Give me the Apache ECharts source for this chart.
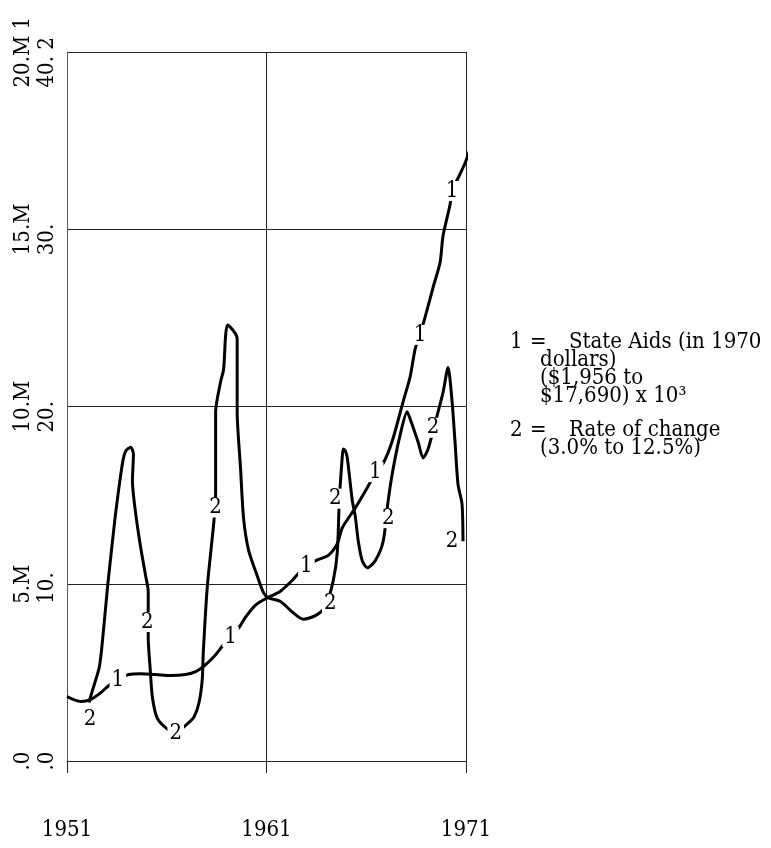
<!DOCTYPE html>
<html>
<head>
<meta charset="utf-8">
<script src="https://cdn.jsdelivr.net/npm/echarts@6/dist/echarts.min.js"></script>
<style>
html,body{margin:0;padding:0;background:#fff;}
#chart{width:771px;height:848px;}
</style>
</head>
<body>
<div id="chart"></div>
<script>
// ---------- data ----------
const baseYear = 1951;
const xTickLabels = ['1951', '1961', '1971'];
const leftLabels1 = ['.0', '5.M', '10.M', '15.M', '20.M 1'];
const leftLabels2 = ['.0', '10.', '20.', '30.', '40. 2'];

// Series 1: State Aids (in 1970 dollars), millions
const years1 = [1951.0,1951.3,1951.7,1952.2,1952.7,1953.1,1953.55,1954.1,1954.7,1955.45,1956.2,1956.95,1957.45,1957.95,1958.45,1958.8,1959.2,1959.6,1959.95,1960.45,1961.1,1961.7,1962.3,1962.95,1963.5,1964.1,1964.55,1964.8,1965.45,1966.1,1966.45,1966.85,1967.3,1967.85,1968.2,1968.45,1968.7,1968.95,1969.35,1969.7,1969.85,1970.2,1970.3,1970.6,1970.95,1971.35];
const stateAids = [1.82,1.74,1.68,1.74,1.93,2.13,2.30,2.44,2.46,2.44,2.41,2.44,2.52,2.72,3.00,3.25,3.50,3.75,4.06,4.40,4.62,4.79,5.10,5.49,5.66,5.80,6.13,6.58,7.14,7.76,8.12,8.40,9.02,10.14,10.84,11.62,12.04,12.52,13.36,14.06,14.82,15.69,16.08,16.44,16.86,17.51];

// Series 2: Rate of change (right-hand scale 0..40)
const years2 = [1952.1,1952.28,1952.62,1952.78,1953.03,1953.28,1953.45,1953.78,1953.95,1954.2,1954.33,1954.28,1954.45,1954.7,1954.95,1955.07,1955.07,1955.17,1955.28,1955.53,1956.03,1956.45,1957.03,1957.37,1957.62,1957.78,1957.83,1958.03,1958.37,1958.45,1958.45,1958.7,1958.85,1958.95,1959.05,1959.45,1959.53,1959.53,1959.7,1959.85,1960.1,1960.55,1960.85,1961.1,1961.7,1962.3,1962.85,1963.45,1963.95,1964.35,1964.55,1964.65,1964.8,1964.85,1964.95,1965.05,1965.3,1965.45,1965.6,1965.8,1966.05,1966.45,1966.85,1967.1,1967.35,1967.7,1968.05,1968.2,1968.6,1968.85,1969.1,1969.6,1969.85,1970.1,1970.3,1970.45,1970.6,1970.8,1970.85];
const rateOfChange = [3.3,4.0,5.3,6.8,9.8,12.4,14.1,16.8,17.5,17.7,17.3,15.8,13.9,12.0,10.4,9.6,7.0,5.2,3.6,2.4,1.8,1.6,2.1,2.5,3.3,4.6,6.1,9.8,13.6,15.2,19.7,21.4,22.1,24.0,24.6,24.1,23.8,19.7,16.5,13.7,11.9,10.4,9.5,9.2,9.0,8.4,8.0,8.2,8.7,10.2,11.8,14.7,17.2,17.6,17.5,17.1,14.7,13.8,12.4,11.3,10.9,11.3,12.4,14.7,16.5,18.4,19.7,19.3,18.0,17.1,17.6,19.7,20.8,22.2,20.3,18.0,15.6,14.5,12.4];

// Curve identification labels
const label1Years = [1953.55, 1959.2, 1963.0, 1966.45, 1968.7, 1970.3];
const label1Values = [2.27, 3.50, 5.49, 8.15, 12.02, 16.08];
const label2Years = [1952.15, 1955.03, 1956.45, 1958.45, 1964.2, 1964.45, 1967.1, 1969.35, 1970.3];
const label2Values = [2.35, 7.84, 1.55, 14.3, 8.9, 14.8, 13.7, 18.8, 12.4];

// Legend text
const legendLines = [
  ['1', 510, 342], ['=', 530, 342], ['State Aids (in 1970', 569, 342],
  ['dollars)', 540, 360], ['($1,956 to', 540, 378], ['$17,690) x 10\u00B3', 540, 396],
  ['2', 510, 430], ['=', 530, 430], ['Rate of change', 569, 430],
  ['(3.0% to 12.5%)', 540, 448]
];

// ---------- build ----------
const FAMILY = '"DejaVu Serif Condensed", "DejaVu Serif", serif';
const AXIS_FS = 22;
const ctx = document.createElement('canvas').getContext('2d');
ctx.font = AXIS_FS + 'px ' + FAMILY;
const rich = {};
leftLabels1.forEach((t, i) => {
  const w = Math.ceil(Math.max(ctx.measureText(t).width, ctx.measureText(leftLabels2[i]).width));
  rich['r' + i] = { width: w, align: 'left', fontSize: AXIS_FS, fontFamily: FAMILY, lineHeight: 23.5, color: '#000' };
});

const pts = (xs, ys) => xs.map((x, i) => [x - baseYear, ys[i]]);

const labelSeries = (xs, ys, txt, yIdx) => ({
  type: 'scatter', yAxisIndex: yIdx, z: 5, clip: false, silent: true,
  symbolSize: 1, itemStyle: { color: 'rgba(255,255,255,0)' },
  data: pts(xs, ys),
  label: {
    show: true, position: 'inside', formatter: txt, opacity: 1,
    fontFamily: FAMILY, fontSize: 22, color: '#000', textBorderWidth: 0,
    backgroundColor: '#fff', padding: [0, 2], lineHeight: 20
  },
  emphasis: { disabled: true }
});

const chart = echarts.init(document.getElementById('chart'), null, { renderer: 'canvas' });
chart.setOption({
  animation: false,
  backgroundColor: '#fff',
  grid: { left: 67, right: 305, top: 52, bottom: 87, containLabel: false },
  xAxis: {
    type: 'value', min: 0, max: 20, interval: 10,
    axisLine: { show: true, lineStyle: { color: '#222', width: 1 } },
    axisTick: { show: true, length: 12, lineStyle: { color: '#222', width: 1 } },
    splitLine: { show: true, lineStyle: { color: '#222', width: 1 } },
    axisLabel: {
      margin: 58, fontFamily: FAMILY, fontSize: AXIS_FS, color: '#000',
      formatter: v => xTickLabels[Math.round(v / 10)]
    }
  },
  yAxis: [
    {
      type: 'value', min: 0, max: 20, interval: 5,
      axisLine: { show: true, lineStyle: { color: '#555', width: 1 } },
      axisTick: { show: false },
      splitLine: { show: true, lineStyle: { color: '#222', width: 1 } },
      axisLabel: {
        rotate: 90, margin: 8, rich: rich,
        formatter: v => { const i = Math.round(v / 5); return '{r' + i + '|' + leftLabels1[i] + '}\n{r' + i + '|' + leftLabels2[i] + '}'; }
      }
    },
    { type: 'value', min: 0, max: 40, interval: 10, show: false }
  ],
  series: [
    { type: 'line', name: 'State Aids', data: pts(years1, stateAids), yAxisIndex: 0, clip: false,
      smooth: 0.25, showSymbol: false, lineStyle: { color: '#000', width: 3 }, z: 3 },
    { type: 'line', name: 'Rate of change', data: pts(years2, rateOfChange), yAxisIndex: 1, clip: false,
      smooth: 0.25, showSymbol: false, lineStyle: { color: '#000', width: 3 }, z: 3 },
    labelSeries(label1Years, label1Values, '1', 0),
    labelSeries(label2Years, label2Values, '2', 1)
  ],
  graphic: legendLines.map(([t, x, y]) => ({
    type: 'text', x: x, y: y, z: 10,
    style: { text: t, font: '22px ' + FAMILY, fill: '#000', verticalAlign: 'middle', align: 'left' }
  }))
});
</script>
</body>
</html>
